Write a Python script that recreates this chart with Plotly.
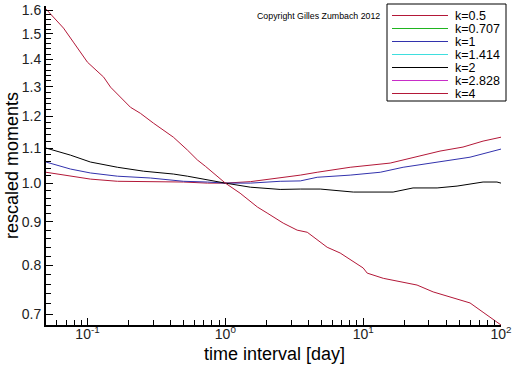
import plotly.graph_objects as go

# ---------------- data ----------------
x_k4 = [0.05, 0.067, 0.079, 0.10, 0.131, 0.147, 0.205, 0.242, 0.301, 0.42, 0.531, 0.627,
        0.716, 0.819, 1.0, 1.28, 1.71, 2.01, 2.63, 3.32, 3.93, 5.48, 6.81, 10.0, 10.7,
        14.0, 24.6, 32.2, 42.7, 59.6, 74.1, 93.5, 100.0]
y_k4 = [1.605, 1.524, 1.467, 1.389, 1.334, 1.298, 1.229, 1.209, 1.177, 1.133, 1.094, 1.065,
        1.047, 1.028, 1.0, 0.973, 0.937, 0.922, 0.897, 0.880, 0.875, 0.840, 0.827, 0.794, 0.783,
        0.772, 0.758, 0.744, 0.734, 0.722, 0.704, 0.685, 0.680]

x_k2 = [0.05, 0.0753, 0.105, 0.165, 0.255, 0.42, 0.531, 0.741, 1.0, 1.52, 2.5, 3.5, 4.88,
        8.48, 16.5, 23.0, 34.4, 48.0, 74.1, 93.5, 100.0]
y_k2 = [1.100, 1.079, 1.059, 1.044, 1.033, 1.025, 1.019, 1.008, 1.0, 0.989, 0.983, 0.984,
        0.984, 0.976, 0.976, 0.987, 0.987, 0.992, 1.003, 1.003, 1.0]

x_k1 = [0.05, 0.0753, 0.105, 0.165, 0.286, 0.497, 0.741, 1.0, 1.52, 2.5, 3.5, 4.64, 8.05,
        13.3, 19.5, 34.4, 59.6, 100.0]
y_k1 = [1.059, 1.039, 1.028, 1.019, 1.014, 1.005, 1.003, 1.0, 1.0, 1.005, 1.006, 1.016,
        1.022, 1.030, 1.044, 1.059, 1.073, 1.097]

x_k05 = [0.05, 0.0753, 0.105, 0.165, 0.286, 0.497, 0.741, 1.0, 1.52, 2.5, 3.5, 4.64, 8.05,
         15.7, 21.9, 36.1, 53.0, 74.1, 100.0]
y_k05 = [1.030, 1.019, 1.011, 1.005, 1.005, 1.003, 1.0, 1.0, 1.004, 1.014, 1.022, 1.030,
         1.044, 1.056, 1.070, 1.091, 1.103, 1.121, 1.133]

legend_names = ["k=0.5", "k=0.707", "k=1", "k=1.414", "k=2", "k=2.828", "k=4"]
legend_colors = ["#b31838", "#1fb41f", "#3232ad", "#3fdede", "#000000", "#c82dc8", "#b31838"]

y_major = [0.7, 0.8, 0.9, 1.0, 1.1, 1.2, 1.3, 1.4, 1.5, 1.6]
y_major_text = ["0.7", "0.8", "0.9", "1.0", "1.1", "1.2", "1.3", "1.4", "1.5", "1.6"]
y_minor = [round(0.68 + 0.02 * i, 2) for i in range(48)]
x_major = [0.1, 1, 10, 100]
x_major_text = ["10<sup>-1</sup>", "10<sup>0</sup>", "10<sup>1</sup>", "10<sup>2</sup>"]
x_minor = [m * d for d in (0.01, 0.1, 1, 10) for m in range(2, 10) if 0.05 <= m * d <= 100]

# ---------------- layout constants ----------------
W, H = 512, 366
ML, MR, MT, MB = 46, 11, 6, 41
PW, PH = W - ML - MR, H - MT - MB
FONT = "Liberation Sans, Arial, sans-serif"


def px2x(px):
    return (px - ML) / PW


def py2y(py):
    return (H - MB - py) / PH


fig = go.Figure()
series = [(x_k05, y_k05, legend_colors[0]), (x_k1, y_k1, legend_colors[2]),
          (x_k2, y_k2, legend_colors[4]), (x_k4, y_k4, legend_colors[6])]
for xs, ys, c in series:
    fig.add_trace(go.Scatter(x=xs, y=ys, mode="lines", line=dict(color=c, width=1),
                             showlegend=False, hoverinfo="skip"))

# manual legend (compact, like the original)
shapes = [dict(type="rect", xref="paper", yref="paper", x0=px2x(387), x1=px2x(506),
               y0=py2y(101), y1=py2y(4), line=dict(color="black", width=1),
               fillcolor="white", layer="above")]
annotations = []
for i, (name, col) in enumerate(zip(legend_names, legend_colors)):
    yy = py2y(15.5 + 13 * i)
    shapes.append(dict(type="line", xref="paper", yref="paper", x0=px2x(392), x1=px2x(448),
                       y0=yy, y1=yy, line=dict(color=col, width=1.2), layer="above"))
    annotations.append(dict(text=name, xref="paper", yref="paper", x=px2x(453), y=yy,
                            xanchor="left", yanchor="middle", showarrow=False,
                            height=13, valign="middle",
                            font=dict(family=FONT, size=12.5, color="black")))

annotations.append(dict(text="Copyright Gilles Zumbach 2012", xref="paper", yref="paper",
                        x=px2x(318), y=py2y(16), xanchor="center", yanchor="middle",
                        showarrow=False, font=dict(family=FONT, size=8.8, color="black")))
# axis titles
annotations.append(dict(text="time interval [day]", xref="paper", yref="paper",
                        x=px2x(274), y=py2y(354), xanchor="center", yanchor="middle",
                        showarrow=False, font=dict(family=FONT, size=18, color="black")))
annotations.append(dict(text="rescaled moments", xref="paper", yref="paper",
                        x=px2x(12), y=py2y(166), xanchor="center", yanchor="middle",
                        textangle=-90, showarrow=False,
                        font=dict(family=FONT, size=18, color="black")))

fig.update_layout(
    width=W, height=H,
    margin=dict(l=ML, r=MR, t=MT, b=MB, pad=0, autoexpand=False),
    paper_bgcolor="white", plot_bgcolor="white",
    font=dict(family=FONT, size=14, color="#222"),
    shapes=shapes, annotations=annotations,
    showlegend=False,
    xaxis=dict(type="log", range=[-1.30103, 2], showgrid=False, zeroline=False,
               automargin=False,
               showline=True, linecolor="black", linewidth=2,
               ticks="inside", ticklen=7, tickwidth=1, tickcolor="black",
               tickmode="array", tickvals=x_major, ticktext=x_major_text,
               ticklabelstandoff=-5,
               tickfont=dict(size=14, color="#222"),
               minor=dict(tickmode="array", tickvals=x_minor, ticks="inside",
                          ticklen=5, tickwidth=1, tickcolor="black")),
    yaxis=dict(type="log", range=[-0.16749, 0.2091], showgrid=False, zeroline=False,
               automargin=False,
               showline=True, linecolor="black", linewidth=2,
               ticks="inside", ticklen=7, tickwidth=1, tickcolor="black",
               tickmode="array", tickvals=y_major, ticktext=y_major_text,
               tickfont=dict(size=14, color="#222"),
               minor=dict(tickmode="array", tickvals=y_minor, ticks="inside",
                          ticklen=5, tickwidth=1, tickcolor="black")),
)

fig.write_html("out.html", config={"displayModeBar": False},
               post_script="document.body.style.margin='0';document.body.style.padding='0';")
